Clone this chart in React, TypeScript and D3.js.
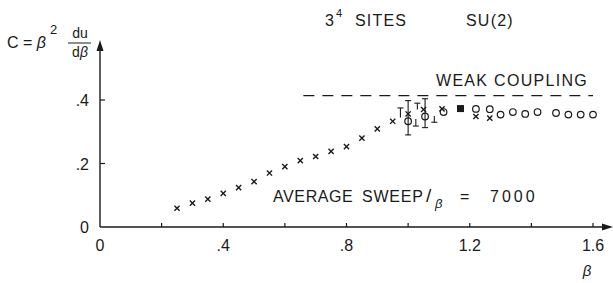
import React from "react";
import * as d3 from "d3";

const crossBeta = [0.25, 0.3, 0.35, 0.4, 0.45, 0.5, 0.55, 0.6, 0.65, 0.7, 0.75, 0.8, 0.85, 0.9, 0.95, 1.0, 1.05, 1.11, 1.22, 1.265];
const crossC = [0.059, 0.075, 0.088, 0.106, 0.124, 0.143, 0.17, 0.19, 0.209, 0.222, 0.238, 0.253, 0.28, 0.309, 0.333, 0.356, 0.37, 0.372, 0.348, 0.343];

const circleBeta = [1.0, 1.055, 1.115, 1.22, 1.265, 1.3, 1.34, 1.38, 1.42, 1.48, 1.52, 1.56, 1.6];
const circleC = [0.333, 0.348, 0.362, 0.372, 0.371, 0.354, 0.362, 0.356, 0.362, 0.359, 0.354, 0.354, 0.354];

const squareBeta = [1.17];
const squareC = [0.373];

const errBeta = [1.0, 1.055, 0.975, 1.03, 1.025, 1.085];
const errLow = [0.29, 0.313, 0.345, 0.37, 0.318, 0.33];
const errHigh = [0.398, 0.404, 0.375, 0.39, 0.34, 0.35];
const errCaps = ["both", "both", "top", "top", "bottom", "bottom"];

const weakC = 0.414;
const weakRange = [0.66, 1.6];

const xTicks = [0.2, 0.4, 0.6, 0.8, 1.0, 1.2, 1.4, 1.6];
const xLabelVals = [0, 0.4, 0.8, 1.2, 1.6];
const xLabels = ["0", ".4", ".8", "1.2", "1.6"];
const yTicks = [0.2, 0.4];
const yLabelVals = [0, 0.2, 0.4];
const yLabels = ["0", ".2", ".4"];

const FONT = "'Liberation Sans', Arial, sans-serif";
const INK = "#1a1a1a";

export default function App() {
  const x = d3.scaleLinear().domain([0, 1.6]).range([100, 593]);
  const y = d3.scaleLinear().domain([0, 0.4]).range([227, 100]);
  const x0 = x(0);
  const y0 = y(0);
  const cs = 2.6;

  return (
    <svg width={613} height={283} style={{ position: "absolute", left: 0, top: 0, background: "#fff" }}
      fontFamily={FONT} fill={INK}>
      {/* axes */}
      <line x1={x0} y1={y0} x2={606} y2={y0} stroke={INK} strokeWidth={1.4} />
      <path d={`M613,${y0} L602,${y0 - 3.5} L602,${y0 + 3.5} Z`} fill={INK} />
      <line x1={x0} y1={y0} x2={x0} y2={48} stroke={INK} strokeWidth={1.4} />
      <path d={`M${x0},40 L${x0 - 3.5},51 L${x0 + 3.5},51 Z`} fill={INK} />
      {xTicks.map((t, i) => (
        <line key={"xt" + i} x1={x(t)} x2={x(t)} y1={y0} y2={y0 - 4} stroke={INK} strokeWidth={1.2} />
      ))}
      {yTicks.map((t, i) => (
        <line key={"yt" + i} x1={x0} x2={x0 + 5} y1={y(t)} y2={y(t)} stroke={INK} strokeWidth={1.2} />
      ))}
      {xLabelVals.map((v, i) => (
        <text key={"xl" + i} x={x(v)} y={251} fontSize={16} textAnchor="middle">{xLabels[i]}</text>
      ))}
      {yLabelVals.map((v, i) => (
        <text key={"yl" + i} x={89} y={y(v) + 6} fontSize={16} textAnchor="end">{yLabels[i]}</text>
      ))}
      <text x={587} y={276} fontSize={15} fontStyle="italic" textAnchor="middle">β</text>

      {/* y label */}
      <text x={7} y={48} fontSize={16}>C = <tspan fontStyle="italic">β</tspan></text>
      <text x={50} y={34} fontSize={13}>2</text>
      <text x={80} y={38} fontSize={14} textAnchor="middle">du</text>
      <line x1={68} x2={91} y1={43} y2={43} stroke={INK} strokeWidth={1} />
      <text x={80} y={57} fontSize={14} textAnchor="middle">d<tspan fontStyle="italic">β</tspan></text>

      {/* title */}
      <text x={325} y={26} fontSize={16} letterSpacing={1.2}>3</text>
      <text x={336} y={17} fontSize={11}>4</text>
      <text x={355} y={26} fontSize={16} letterSpacing={1.2}>SITES</text>
      <text x={466} y={26} fontSize={16} letterSpacing={1.2}>SU(2)</text>

      {/* weak coupling */}
      <text x={436} y={86} fontSize={16} letterSpacing={1.3}>WEAK COUPLING</text>
      <line x1={x(weakRange[0])} x2={x(weakRange[1])} y1={y(weakC)} y2={y(weakC)}
        stroke={INK} strokeWidth={1.3} strokeDasharray="11 8" />

      {/* annotation */}
      <text x={273} y={202} fontSize={16} letterSpacing={0.6}>AVERAGE</text>
      <text x={362} y={202} fontSize={16} letterSpacing={0.8}>SWEEP</text>
      <text x={426} y={202} fontSize={19}>/</text>
      <text x={435} y={208} fontSize={13} fontStyle="italic">β</text>
      <text x={460} y={202} fontSize={16}>=</text>
      <text x={490} y={202} fontSize={16} letterSpacing={3}>7000</text>

      {/* error bars */}
      {errBeta.map((b, i) => {
        const xx = x(b);
        const lo = y(errLow[i]);
        const hi = y(errHigh[i]);
        return (
          <g key={"e" + i} stroke={INK} strokeWidth={1.1}>
            <line x1={xx} x2={xx} y1={lo} y2={hi} />
            {errCaps[i] !== "bottom" && <line x1={xx - 3} x2={xx + 3} y1={hi} y2={hi} />}
            {errCaps[i] !== "top" && <line x1={xx - 3} x2={xx + 3} y1={lo} y2={lo} />}
          </g>
        );
      })}

      {/* crosses */}
      {crossBeta.map((b, i) => {
        const cx = x(b);
        const cy = y(crossC[i]);
        return (
          <path key={"c" + i} d={`M${cx - cs},${cy - cs}L${cx + cs},${cy + cs}M${cx - cs},${cy + cs}L${cx + cs},${cy - cs}`}
            stroke={INK} strokeWidth={1.4} fill="none" />
        );
      })}

      {/* circles */}
      {circleBeta.map((b, i) => (
        <circle key={"o" + i} cx={x(b)} cy={y(circleC[i])} r={3.3} fill="none" stroke={INK} strokeWidth={1.2} />
      ))}

      {/* square */}
      {squareBeta.map((b, i) => (
        <rect key={"s" + i} x={x(b) - 3.5} y={y(squareC[i]) - 3.5} width={7} height={7} fill={INK} />
      ))}
    </svg>
  );
}
